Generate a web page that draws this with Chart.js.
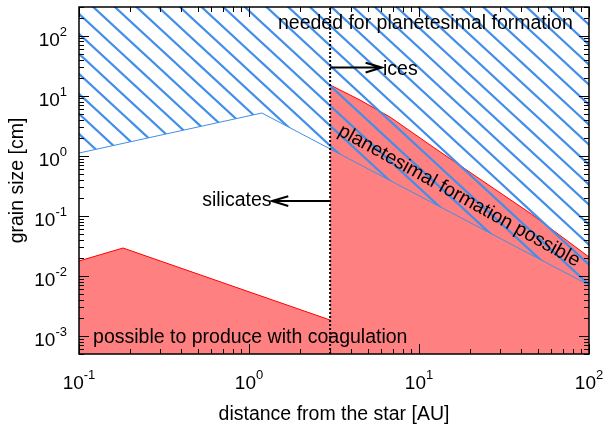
<!DOCTYPE html>
<html>
<head>
<meta charset="utf-8">
<script src="https://cdn.jsdelivr.net/npm/chart.js@4"></script>
<style>
  html, body { margin: 0; padding: 0; background: #fff; }
  canvas { display: block; }
</style>
</head>
<body>
<canvas id="grainChart" width="605" height="429"></canvas>
<script>
// axis ranges
const xRange = [0.1, 100];
const yRange = [5e-4, 300];
const snowLine = 3;

// lower edge of the "needed for planetesimal formation" region
const neededX = [0.1, 1.19, 100];
const neededY = [1.11, 5.15, 0.0070];

// upper edge of what coagulation can produce, silicates (inside snow line)
const silicateX = [0.1, 0.1815, 3];
const silicateY = [0.0177, 0.0291, 0.00184];

// upper edge of what coagulation can produce, ices (outside snow line)
const iceX = [3, 4.5, 6.75, 12.1, 21.9, 45, 100];
const iceY = [15.1, 8.47, 4.42, 1.40, 0.443, 0.111, 0.0206];

// major ticks (decades) and their exponents
const xTicks = [0.1, 1, 10, 100];
const xTickExp = ['-1', '0', '1', '2'];
const yTicks = [1e-3, 1e-2, 1e-1, 1, 10, 100];
const yTickExp = ['-3', '-2', '-1', '0', '1', '2'];

const blue = 'rgb(66,142,232)';
const font = '19.5px "Liberation Sans", Arial, sans-serif';
const tickFont = '19px "Liberation Sans", Arial, sans-serif';
const expFont = '13px "Liberation Sans", Arial, sans-serif';

function toPoints(xs, ys) {
  return xs.map((x, i) => ({x: x, y: ys[i]}));
}

// diagonal hatching, 3 lines per tile
function makeHatch() {
  const tile = document.createElement('canvas');
  tile.width = 65;
  tile.height = 60;
  const g = tile.getContext('2d');
  g.strokeStyle = blue;
  g.lineWidth = 2.2;
  const s = 60 / 65;
  for (let k = -4; k <= 4; k++) {
    const c = 0.9 + 20 * k;
    g.beginPath();
    g.moveTo(-5, c - 5 * s);
    g.lineTo(70, c + 70 * s);
    g.stroke();
  }
  return g.createPattern(tile, 'repeat');
}

function drawArrow(ctx, x0, y0, x1, y1) {
  const ang = Math.atan2(y1 - y0, x1 - x0);
  const len = 17, half = 0.29;
  ctx.save();
  ctx.strokeStyle = '#000';
  ctx.lineWidth = 2;
  ctx.beginPath();
  ctx.moveTo(x0, y0);
  ctx.lineTo(x1, y1);
  ctx.moveTo(x1 - len * Math.cos(ang - half), y1 - len * Math.sin(ang - half));
  ctx.lineTo(x1, y1);
  ctx.lineTo(x1 - len * Math.cos(ang + half), y1 - len * Math.sin(ang + half));
  ctx.stroke();
  ctx.restore();
}

// arrows and labels inside the plot, in data coordinates
const annotations = {
  id: 'annotations',
  afterDatasetsDraw(chart) {
    const ctx = chart.ctx;
    const xs = chart.scales.x, ys = chart.scales.y;
    const px = v => xs.getPixelForValue(v);
    const py = v => ys.getPixelForValue(v);

    drawArrow(ctx, px(snowLine), py(0.176), px(1.365), py(0.176));
    drawArrow(ctx, px(snowLine), py(29.4), px(6.05), py(29.4));

    ctx.save();
    ctx.fillStyle = '#000';
    ctx.font = font;
    ctx.textBaseline = 'alphabetic';
    ctx.textAlign = 'left';
    ctx.fillText('needed for planetesimal formation', px(1.48), py(131.5));
    ctx.fillText('possible to produce with coagulation', px(0.121), py(7.53e-4));
    ctx.fillText('ices', px(6.14), py(22.1));
    ctx.textAlign = 'right';
    ctx.fillText('silicates', px(1.356), py(0.146));

    ctx.translate(px(17.2), py(0.214));
    ctx.rotate(29 * Math.PI / 180);
    ctx.textAlign = 'center';
    ctx.textBaseline = 'middle';
    ctx.fillText('planetesimal formation possible', 0, 0);
    ctx.restore();
  }
};

// gnuplot style frame: inward ticks on all sides, superscript labels
const frame = {
  id: 'frame',
  afterDraw(chart) {
    const ctx = chart.ctx;
    const a = chart.chartArea;
    const xs = chart.scales.x, ys = chart.scales.y;
    ctx.save();
    ctx.strokeStyle = '#000';
    ctx.lineWidth = 1;
    ctx.beginPath();
    for (let e = -4; e <= 3; e++) {
      for (let m = 1; m <= 9; m++) {
        const v = m * Math.pow(10, e);
        const L = m === 1 ? 10 : 5;
        if (v >= xRange[0] && v <= xRange[1]) {
          const x = Math.round(xs.getPixelForValue(v)) + 0.5;
          ctx.moveTo(x, a.bottom); ctx.lineTo(x, a.bottom - L);
          ctx.moveTo(x, a.top); ctx.lineTo(x, a.top + L);
        }
        if (v >= yRange[0] && v <= yRange[1]) {
          const y = Math.round(ys.getPixelForValue(v)) + 0.5;
          ctx.moveTo(a.left, y); ctx.lineTo(a.left + L, y);
          ctx.moveTo(a.right, y); ctx.lineTo(a.right - L, y);
        }
      }
    }
    ctx.stroke();
    ctx.lineWidth = 1.5;
    ctx.strokeRect(a.left, a.top, a.right - a.left, a.bottom - a.top);

    ctx.fillStyle = '#000';
    ctx.textBaseline = 'alphabetic';
    ctx.textAlign = 'left';
    xTicks.forEach((v, i) => {
      ctx.font = tickFont;
      const wb = ctx.measureText('10').width;
      ctx.font = expFont;
      const we = ctx.measureText(xTickExp[i]).width;
      const x0 = xs.getPixelForValue(v) - (wb + we) / 2;
      ctx.font = tickFont;
      ctx.fillText('10', x0, 389);
      ctx.font = expFont;
      ctx.fillText(xTickExp[i], x0 + wb, 379);
    });
    yTicks.forEach((v, i) => {
      const y = ys.getPixelForValue(v);
      ctx.font = tickFont;
      const wb = ctx.measureText('10').width;
      ctx.font = expFont;
      const we = ctx.measureText(yTickExp[i]).width;
      const x0 = 67 - we - wb;
      ctx.font = tickFont;
      ctx.fillText('10', x0, y + 10);
      ctx.font = expFont;
      ctx.fillText(yTickExp[i], x0 + wb, y);
    });

    ctx.font = font;
    ctx.textAlign = 'center';
    ctx.fillText('distance from the star [AU]', (a.left + a.right) / 2, 420);
    ctx.translate(18, (a.top + a.bottom) / 2);
    ctx.rotate(-Math.PI / 2);
    ctx.textBaseline = 'middle';
    ctx.fillText('grain size [cm]', 0, 0);
    ctx.restore();
  }
};

new Chart(document.getElementById('grainChart'), {
  type: 'line',
  data: {
    datasets: [
      {
        label: 'snow line',
        data: [{x: snowLine, y: yRange[0]}, {x: snowLine, y: yRange[1]}],
        borderColor: '#000',
        borderWidth: 2,
        borderDash: [2, 2],
        pointRadius: 0,
        fill: false,
        order: 0
      },
      {
        label: 'needed for planetesimal formation',
        data: toPoints(neededX, neededY),
        borderColor: blue,
        borderWidth: 1,
        backgroundColor: makeHatch(),
        fill: 'end',
        pointRadius: 0,
        order: 1
      },
      {
        label: 'silicates',
        data: toPoints(silicateX, silicateY),
        borderColor: '#ff0000',
        borderWidth: 1,
        backgroundColor: '#ff8080',
        fill: 'start',
        pointRadius: 0,
        order: 2
      },
      {
        label: 'ices',
        data: toPoints(iceX, iceY),
        borderColor: '#ff0000',
        borderWidth: 1,
        backgroundColor: '#ff8080',
        fill: 'start',
        pointRadius: 0,
        order: 2
      }
    ]
  },
  options: {
    responsive: false,
    animation: false,
    layout: {padding: {left: 79, right: 16, top: 7, bottom: 75}},
    scales: {
      x: {type: 'logarithmic', min: xRange[0], max: xRange[1], display: false},
      y: {type: 'logarithmic', min: yRange[0], max: yRange[1], display: false}
    },
    plugins: {
      legend: {display: false},
      tooltip: {enabled: false}
    }
  },
  plugins: [annotations, frame]
});
</script>
</body>
</html>
